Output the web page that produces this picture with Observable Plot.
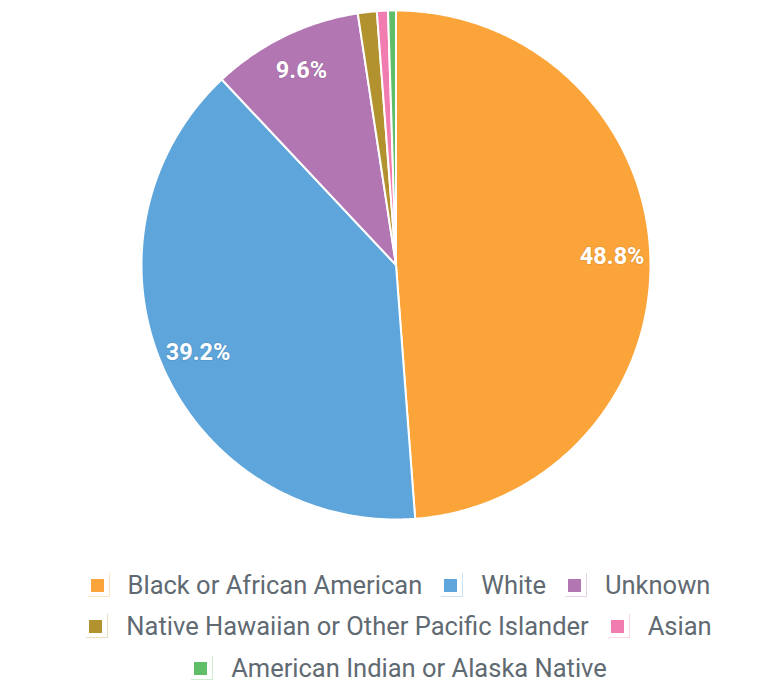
<!DOCTYPE html>
<html>
<head>
<meta charset="utf-8">
<script src="https://cdn.jsdelivr.net/npm/d3@7"></script>
<script src="https://cdn.jsdelivr.net/npm/@observablehq/plot@0.6"></script>
<style>
  html, body { margin: 0; padding: 0; background: #fff; }
  body { width: 776px; font-family: Roboto, "Noto Sans", sans-serif; }
  #legend { position: relative; left: 74px; width: 650px; padding-top: 34px;
    display: flex; flex-wrap: wrap; justify-content: center; column-gap: 19px; }
  .item { display: flex; align-items: center; height: 41.5px; }
  .sw { position: relative; width: 22px; height: 24px; margin-right: 18px; flex: none; }
  .sw .box { position: absolute; left: 0; top: 0; width: 21px; height: 23px; border-right: 1px solid; border-bottom: 1px solid; opacity: 0.3; }
  .sw .sq { position: absolute; left: 3px; top: 6px; width: 13px; height: 13px; }
  .lab { font-size: 25.5px; line-height: 22px; color: #5f6a72; white-space: nowrap; }
</style>
</head>
<body>
<div id="chart"></div>
<div id="legend"></div>
<script>
const categories = ["Black or African American", "White", "Unknown", "Native Hawaiian or Other Pacific Islander", "Asian", "American Indian or Alaska Native"];
const values = [48.8, 39.2, 9.6, 1.2, 0.7, 0.5];
const colors = ["#FAA43A", "#5DA5DA", "#B276B2", "#B2912F", "#F17CB0", "#60BD68"];

const total = d3.sum(values);
let acc = 0;
const slices = categories.map((name, i) => {
  const a0 = acc / total * 2 * Math.PI;
  acc += values[i];
  const a1 = acc / total * 2 * Math.PI;
  return {name, value: values[i], a0, a1};
});

function arcPolygon(a0, a1) {
  const n = Math.max(2, Math.ceil((a1 - a0) / (Math.PI / 360)));
  const ring = [[0, 0]];
  for (let k = 0; k <= n; ++k) {
    const a = a0 + (a1 - a0) * k / n;
    ring.push([Math.sin(a), -Math.cos(a)]);
  }
  ring.push([0, 0]);
  return ring;
}

const features = slices.map(s => ({
  type: "Feature",
  properties: {name: s.name},
  geometry: {type: "Polygon", coordinates: [arcPolygon(s.a0, s.a1)]}
}));

const labelR = 0.85;
const labels = slices.filter(s => s.value >= 5).map(s => {
  const m = (s.a0 + s.a1) / 2;
  return {x: labelR * Math.sin(m), y: -labelR * Math.cos(m), text: s.value.toFixed(1) + "%"};
});

const frame = {type: "Feature", geometry: {type: "Polygon", coordinates: [[[-1,-1],[1,-1],[1,1],[-1,1],[-1,-1]]]}};

const chart = Plot.plot({
  width: 776,
  height: 530,
  marginLeft: 141,
  marginRight: 126,
  marginTop: 9.5,
  marginBottom: 10.5,
  projection: {type: "identity", domain: frame, inset: 0},
  color: {domain: categories, range: colors},
  style: {fontFamily: "Roboto, sans-serif", background: "#fff"},
  marks: [
    Plot.geo(features, {fill: d => d.properties.name, stroke: "#fff", strokeWidth: 2, strokeLinejoin: "round"}),
    Plot.text(labels, {x: "x", y: "y", text: "text", fill: "#fff", fontSize: 23.5, fontWeight: "bold", stroke: "rgba(0,0,0,0.08)", strokeWidth: 2})
  ]
});
document.getElementById("chart").appendChild(chart);

const legend = d3.select("#legend");
categories.forEach((c, i) => {
  const it = legend.append("div").attr("class", "item");
  const sw = it.append("div").attr("class", "sw");
  sw.append("div").attr("class", "box").style("border-color", colors[i]);
  sw.append("div").attr("class", "sq").style("background", colors[i]);
  it.append("div").attr("class", "lab").text(c);
});
</script>
</body>
</html>
